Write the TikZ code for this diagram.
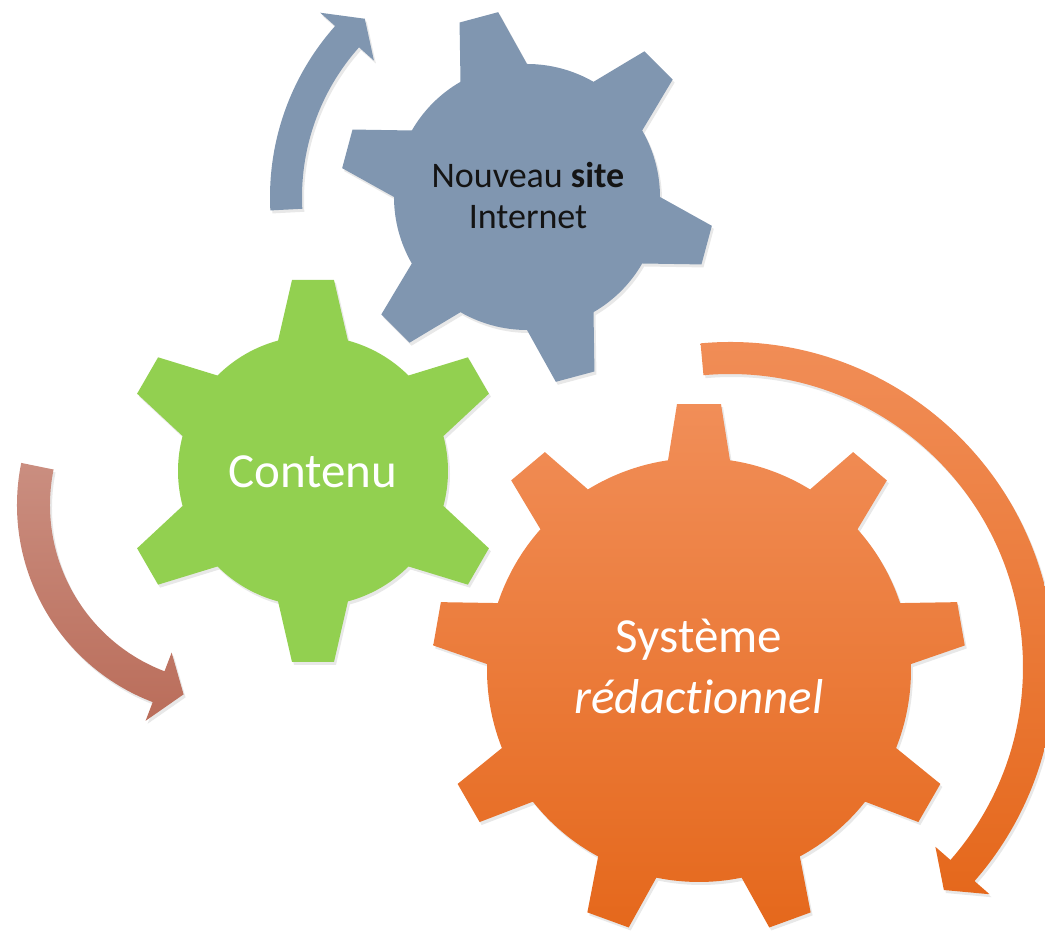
\documentclass[tikz,border=0pt]{standalone}
\usepackage{fontspec}
\setmainfont{Carlito}[Ligatures=CommonOff]
\usetikzlibrary{calc,shadows}

\definecolor{slateblue}{RGB}{128,150,176}
\definecolor{leafgreen}{RGB}{146,208,80}
\definecolor{orangetop}{RGB}{241,142,88}
\definecolor{orangebot}{RGB}{229,104,28}
\definecolor{redtop}{RGB}{202,142,128}
\definecolor{redbot}{RGB}{186,109,90}
\definecolor{darktext}{RGB}{20,20,20}

% gear: style, centre, teeth, first tooth angle, body radius, outer radius, tip half width, base half angle
\newcommand{\drawgear}[8][]{%
  \pgfmathsetmacro\gstep{360/#3}%
  \pgfmathsetmacro\gtip{atan(#7/#6)}%
  \pgfmathsetmacro\grad{veclen(#6,#7)}%
  \path[#1,shift={(#2)}] ({#4-#8}:#5)
    \foreach \k in {1,...,#3}{
      -- ({#4+(\k-1)*\gstep-\gtip}:\grad)
      -- ({#4+(\k-1)*\gstep+\gtip}:\grad)
      -- ({#4+(\k-1)*\gstep+#8}:#5)
      arc[start angle={#4+(\k-1)*\gstep+#8}, end angle={#4+\k*\gstep-#8}, radius=#5pt]
    } -- cycle;
}
% curved arrow: style, centre, inner radius, outer radius, tail angle, barb angle, tip angle
\newcommand{\turnarrow}[7][]{%
  \pgfmathsetmacro\amid{(#3+#4)/2}%
  \path[#1,shift={(#2)}] (#5:#4)
    arc[start angle=#5, end angle=#6, radius=#4pt]
    -- (#6:{#4+20}) -- (#7:\amid) -- (#6:{#3-20}) -- (#6:#3)
    arc[start angle=#6, end angle=#5, radius=#3pt] -- cycle;
}

\tikzset{
  softshadow/.style={drop shadow={shadow xshift=2pt,shadow yshift=-3pt,opacity=.18}},
  gearlabel/.style={inner sep=0pt,align=center,text=white,font=\fontsize{49}{61}\selectfont},
  sitelabel/.style={inner sep=0pt,align=center,text=darktext,font=\fontsize{36}{41}\selectfont},
}

\begin{document}
\begin{tikzpicture}[x=1pt,y=1pt]
  \useasboundingbox (0,0) rectangle (1045,931);
  \clip (0,0) rectangle (1045,931);
  % centres
  \coordinate (sitec) at (527,734);
  \coordinate (contc) at (313,460);
  \coordinate (sysc) at (699,261);
  \coordinate (sysarr) at (730,264);
  \coordinate (contarr) at (228,426);
  % arrows
  \turnarrow[softshadow,fill=slateblue]{sitec}{225}{257}{183}{138.3}{132.3}
  \turnarrow[softshadow,top color=redtop,bottom color=redbot]{contarr}{178}{211}{168.5}{249.1}{256.8}
  \turnarrow[softshadow,top color=orangetop,bottom color=orangebot]{sysarr}{293}{325}{95.2}{-41.2}{-46.2}
  % gears
  \drawgear[softshadow,fill=slateblue]{sitec}{6}{45}{133}{186}{20}{15}
  \drawgear[softshadow,fill=leafgreen]{contc}{6}{30}{135}{191}{21}{15}
  \drawgear[softshadow,top color=orangetop,bottom color=orangebot]{sysc}{9}{10}{212}{266}{22}{8.4}
  % labels
  \node[sitelabel] (site) at (528,735) {Nouveau \textbf{site}\\Internet};
  \node[gearlabel] (contenu) at (313,459) {Contenu};
  \node[gearlabel] (systeme) at (699,265) {Système\\\textit{rédactionnel}};
\end{tikzpicture}
\end{document}
